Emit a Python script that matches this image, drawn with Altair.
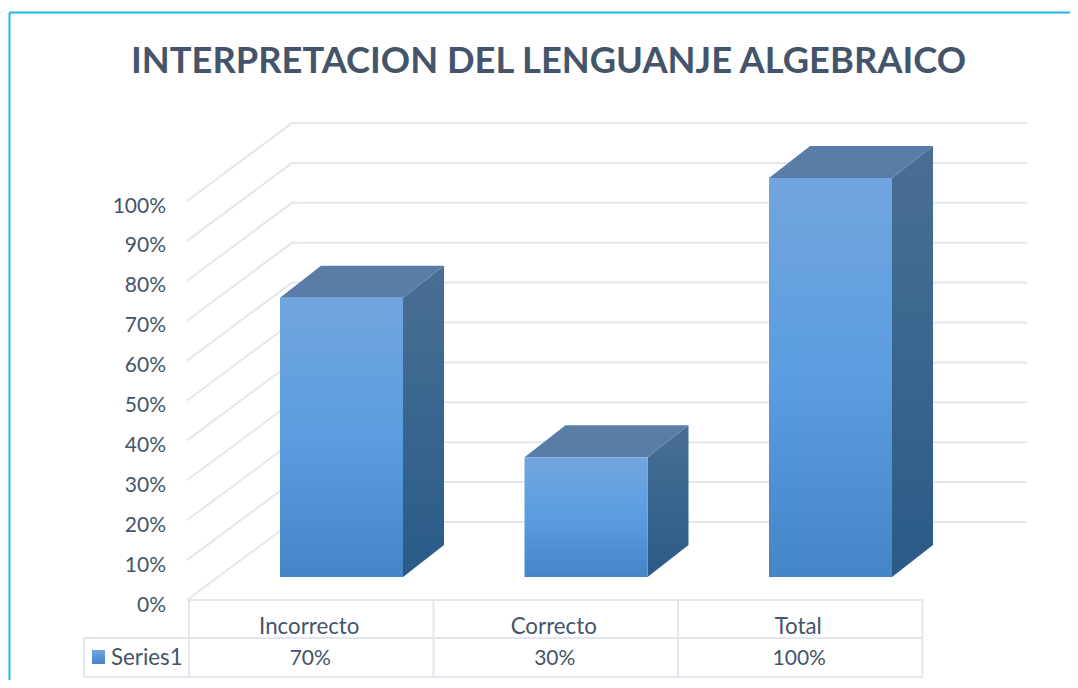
import altair as alt
import pandas as pd

categories = ["Incorrecto", "Correcto", "Total"]
values = [0.70, 0.30, 1.00]
value_labels = ["70%", "30%", "100%"]
ticks = [0, 0.1, 0.2, 0.3, 0.4, 0.5, 0.6, 0.7, 0.8, 0.9, 1.0]
tick_labels = ["0%", "10%", "20%", "30%", "40%", "50%", "60%", "70%", "80%", "90%", "100%"]
series_name = "Series1"
title_text = "INTERPRETACION DEL LENGUANJE ALGEBRAICO"

FONT = "Lato"
TEXT = "#44546a"
GRID = "#e3e6ee"
SLOT = 244.5
UNIT = 399.0
X0, Y0 = 189.0, 600.0
WALL_DX, WALL_DY = 103 / SLOT, 78 / UNIT
WALL_RIGHT = 838 / SLOT
BAR_L, BAR_W = 91 / SLOT, 123 / SLOT
BAR_BASE = 23 / UNIT
DEPTH_X, DEPTH_Y = 41 / SLOT, 32 / UNIT
ROW1, ROW2 = -38 / UNIT, -77 / UNIT
STUB = -105 / SLOT


def px(p):
    return (p - X0) / SLOT


def py(p):
    return (Y0 - p) / UNIT


xs = alt.Scale(domain=[px(8), px(1070)], nice=False, zero=False)
ys = alt.Scale(domain=[py(680), py(8)], nice=False, zero=False)
X = alt.X("x:Q", scale=xs, axis=None)
Y = alt.Y("y:Q", scale=ys, axis=None)


def grad(stops):
    return alt.LinearGradient(
        gradient="linear", x1=0, x2=0, y1=0, y2=1,
        stops=[alt.GradientStop(offset=o, color=c) for o, c in stops],
    )


FRONT = grad([(0, "#72a5de"), (0.5, "#5a9de0"), (1, "#4485c8")])
SIDE = grad([(0, "#4b6e93"), (0.5, "#38668f"), (1, "#2a5a87")])
TOP = grad([(0, "#5a7da8"), (1, "#5a7da8")])

grid_rows = []
for t in ticks:
    grid_rows += [
        dict(t=t, o=0, x=-2 / SLOT, y=t),
        dict(t=t, o=1, x=WALL_DX, y=t + WALL_DY),
        dict(t=t, o=2, x=WALL_RIGHT, y=t + WALL_DY),
    ]
grid = alt.Chart(pd.DataFrame(grid_rows)).mark_line(color=GRID, strokeWidth=2).encode(
    x=X, y=Y, detail="t:N", order="o:Q"
)

front_rows, side_rows, top_rows = [], [], []
for i, (c, v) in enumerate(zip(categories, values)):
    l = i + BAR_L
    r = l + BAR_W
    low = BAR_BASE + v
    high = low + DEPTH_Y
    front_rows.append(dict(c=c, x=l, x2=r, y=BAR_BASE, y2=low))
    side_rows += [
        dict(c=c, x=r, y=low, y2=BAR_BASE),
        dict(c=c, x=r + DEPTH_X, y=high, y2=BAR_BASE + DEPTH_Y),
    ]
    top_rows += [
        dict(c=c, x=l, y=low, y2=low),
        dict(c=c, x=l + DEPTH_X, y=high, y2=low),
        dict(c=c, x=r, y=high, y2=low),
        dict(c=c, x=r + DEPTH_X, y=high, y2=high),
    ]

front = alt.Chart(pd.DataFrame(front_rows)).mark_rect(color=FRONT).encode(
    x=X, x2="x2:Q", y=Y, y2="y2:Q", detail="c:N"
)
side = alt.Chart(pd.DataFrame(side_rows)).mark_area(color=SIDE).encode(
    x=X, y=Y, y2="y2:Q", detail="c:N"
)
top = alt.Chart(pd.DataFrame(top_rows)).mark_area(color=TOP).encode(
    x=X, y=Y, y2="y2:Q", detail="c:N"
)

table_rows = [
    dict(x=0, x2=3, y=0, y2=0),
    dict(x=STUB, x2=3, y=ROW1, y2=ROW1),
    dict(x=STUB, x2=3, y=ROW2, y2=ROW2),
    dict(x=STUB, x2=STUB, y=ROW1, y2=ROW2),
] + [dict(x=i, x2=i, y=0, y2=ROW2) for i in range(4)]
table = alt.Chart(pd.DataFrame(table_rows)).mark_rule(color=GRID, strokeWidth=2).encode(
    x=X, x2="x2:Q", y=Y, y2="y2:Q"
)

num_style = dict(font=FONT, fontSize=21, color=TEXT, baseline="middle")
text_style = dict(font=FONT, fontSize=22.3, color=TEXT, baseline="middle")
tick_text = alt.Chart(pd.DataFrame(
    [dict(x=px(166), y=t - 5.5 / UNIT, t=s) for t, s in zip(ticks, tick_labels)]
)).mark_text(align="right", **num_style).encode(x=X, y=Y, text="t:N")
cat_text = alt.Chart(pd.DataFrame(
    [dict(x=i + 0.5 - 2 / SLOT, y=py(627), t=c) for i, c in enumerate(categories)]
)).mark_text(**text_style).encode(x=X, y=Y, text="t:N")
val_text = alt.Chart(pd.DataFrame(
    [dict(x=i + 0.5 - 1 / SLOT, y=py(658.5), t=c) for i, c in enumerate(value_labels)]
)).mark_text(**num_style).encode(x=X, y=Y, text="t:N")
series_text = alt.Chart(pd.DataFrame([dict(x=px(111), y=py(658), t=series_name)])).mark_text(
    align="left", **text_style
).encode(x=X, y=Y, text="t:N")
swatch = alt.Chart(pd.DataFrame([dict(x=px(92), x2=px(105), y=py(650), y2=py(664))])).mark_rect(
    color=grad([(0, "#72a5de"), (1, "#4485c8")])
).encode(x=X, x2="x2:Q", y=Y, y2="y2:Q")
title = alt.Chart(pd.DataFrame([dict(x=px(548.5), y=py(73), t=title_text)])).mark_text(
    font=FONT, fontWeight="bold", fontSize=36.3, color=TEXT, baseline="alphabetic"
).encode(x=X, y=Y, text="t:N")

border = alt.Chart(pd.DataFrame([
    dict(x=px(9.5), x2=px(1070), y=py(12.5), y2=py(12.5)),
    dict(x=px(9.5), x2=px(9.5), y=py(12.5), y2=py(680)),
])).mark_rule(color="#1fb5ea", strokeWidth=2).encode(x=X, x2="x2:Q", y=Y, y2="y2:Q")

chart = alt.layer(
    grid, table, side, top, front, tick_text, cat_text, val_text, series_text, swatch, title, border
).properties(
    width=1062,
    height=672,
    padding=0,
    autosize=alt.AutoSizeParams(type="none"),
    background="white",
).configure_view(stroke=None)

chart.save("out.html", embed_options={"renderer": "svg", "actions": False})
